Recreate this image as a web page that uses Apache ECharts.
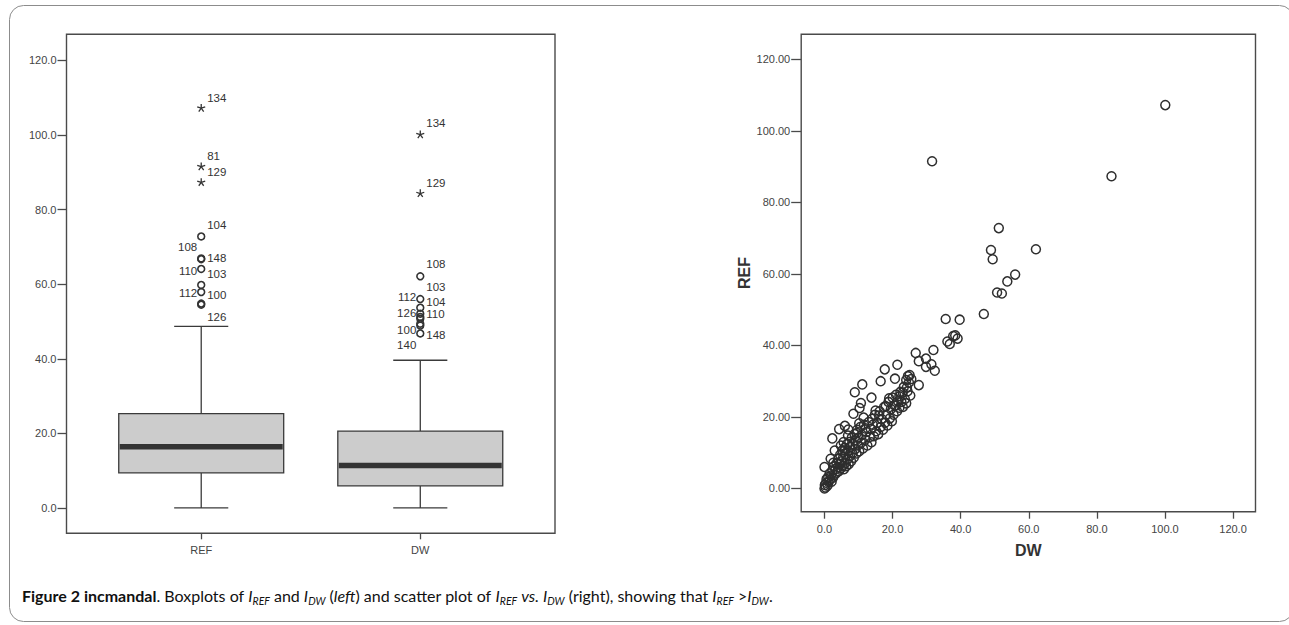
<!DOCTYPE html>
<html><head><meta charset="utf-8">
<script src="https://cdn.jsdelivr.net/npm/echarts@6/dist/echarts.min.js"></script>
<style>html,body{margin:0;padding:0;background:#fff}#c{width:1289px;height:625px}</style>
</head><body><div id="c"></div>
<script>
// ---------- Boxplot summary (left panel) ----------
const boxCategories = ['REF', 'DW'];
const boxLow    = [0.0, 0.0];
const boxQ1     = [9.4, 5.9];
const boxMedian = [16.4, 11.4];
const boxQ3     = [25.3, 20.6];
const boxHigh   = [48.7, 39.6];

// outliers: category index, value, kind ('star' = extreme, 'circle' = outlier)
const outlierCat   = [0, 0, 0, 0, 0, 0, 0, 0, 0, 0, 0,  1, 1, 1, 1, 1, 1, 1, 1, 1, 1, 1];
const outlierValue = [107.2, 91.5, 87.3, 72.8, 66.9, 66.7, 64.1, 59.8, 57.9, 54.8, 54.5,
                      100.1, 84.3, 62.1, 56.0, 53.7, 52.1, 51.2, 50.7, 49.4, 48.9, 46.8];
const outlierKind  = ['star','star','star','circle','circle','circle','circle','circle','circle','circle','circle',
                      'star','star','circle','circle','circle','circle','circle','circle','circle','circle','circle'];

// case labels next to outliers: category, text, value at which the label sits, side
const labelCat   = [0, 0, 0, 0, 0, 0, 0, 0, 0, 0, 0,  1, 1, 1, 1, 1, 1, 1, 1, 1, 1, 1];
const labelText  = ['134','81','129','104','108','148','110','103','112','100','126',
                    '134','129','108','103','112','104','126','110','100','148','140'];
const labelValue = [110.0, 94.3, 90.1, 75.8, 70.0, 67.1, 63.5, 62.6, 57.6, 57.0, 51.2,
                    103.1, 87.1, 65.3, 59.2, 56.6, 55.2, 52.2, 52.0, 47.8, 46.3, 43.6];
const labelSide  = ['R','R','R','R','L','R','L','R','L','R','R',
                    'R','R','R','R','L','R','L','R','L','R','L'];

// ---------- Scatter (right panel): DW (x) vs REF (y) ----------
const scatterDW = [
  100.1, 31.6, 84.3, 51.2, 48.9, 49.4, 62.1, 56.0, 53.7, 50.7, 52.1, 46.8, 35.6, 39.7,
  36.1, 36.8, 37.8, 38.4, 39.1, 26.8, 32.0, 29.8, 27.7, 31.4, 29.8, 32.4, 17.7, 21.4,
  16.5, 11.1, 8.9, 20.7, 27.7, 24.0, 24.5, 25.0, 13.8, 10.7, 10.3, 8.5, 11.5, 6.0, 4.3,
  7.0, 2.3, 0.0, 1.8, 3.0,
  0.0, 0.1, 0.3, 0.5, 0.6, 0.9, 1.1, 1.2, 1.5, 1.6, 1.9, 2.1, 2.3, 2.5, 2.8, 3.0, 3.2, 3.5, 3.6, 3.9,
  4.0, 4.2, 4.4, 4.6, 4.8, 5.0, 5.2, 5.3, 5.5, 5.7, 5.9, 6.0, 6.2, 6.4, 6.6, 6.8, 7.0, 7.1, 7.3, 7.5,
  7.6, 7.8, 8.0, 5.6, 6.9,
  8.2, 8.4, 8.6, 8.8, 9.0, 9.2, 9.4, 9.6, 9.8, 10.0, 10.2, 10.5, 10.8, 11.0, 11.3, 11.6, 12.0, 12.3,
  12.6, 13.0, 13.3, 13.6, 13.8,
  14.2, 14.5, 14.8, 15.2, 15.5, 15.8, 16.2, 16.5, 16.8, 17.2, 17.5, 17.8, 18.2, 18.5, 18.8, 19.2,
  19.5, 19.8, 20.0,
  20.3, 20.6, 21.0, 21.3, 21.6, 22.0, 22.3, 22.6, 23.0, 23.3, 23.6, 24.0, 24.4, 24.8, 25.2, 25.5,
  9.5, 12.0, 14.0, 16.0, 18.0, 19.0, 21.0, 22.0, 23.0, 24.2, 15.0, 10.2, 6.0, 4.8, 2.6
];
const scatterREF = [
  107.2, 91.5, 87.3, 72.8, 66.7, 64.1, 66.9, 59.8, 57.9, 54.8, 54.5, 48.8, 47.4, 47.2,
  41.1, 40.4, 42.6, 42.8, 41.9, 37.9, 38.7, 36.3, 35.6, 34.7, 34.0, 32.9, 33.3, 34.6,
  30.0, 29.1, 26.9, 30.7, 28.9, 30.3, 31.4, 31.7, 25.4, 23.9, 22.5, 20.9, 19.8, 17.5, 16.6,
  16.5, 14.0, 6.0, 8.3, 10.6,
  0.0, 1.0, 0.3, 1.6, 2.6, 0.8, 3.2, 1.8, 4.2, 2.4, 3.6, 1.9, 5.0, 3.0, 6.2, 3.8, 5.4, 7.0, 4.4, 6.0,
  8.2, 4.8, 6.8, 9.4, 5.6, 7.6, 10.6, 6.2, 8.8, 5.4, 11.4, 7.0, 9.6, 6.2, 12.4, 8.2, 10.4, 6.8, 13.0, 9.0,
  11.6, 7.6, 14.2, 13.0, 14.8,
  9.8, 12.4, 8.6, 15.2, 11.0, 13.4, 9.8, 16.4, 12.0, 14.2, 10.4, 17.2, 12.8, 15.0, 11.2, 17.8, 13.6, 15.8,
  12.0, 18.6, 14.4, 16.6, 12.9,
  17.8, 14.6, 20.6, 16.0, 18.4, 15.2, 21.6, 17.2, 19.4, 16.4, 22.8, 18.4, 20.6, 17.6, 24.2, 19.6,
  22.2, 18.8, 25.4,
  20.6, 23.2, 26.2, 21.6, 24.4, 22.6, 27.0, 24.2, 22.8, 28.4, 25.0, 23.8, 27.2, 29.6, 26.0, 30.6,
  15.5, 16.8, 19.5, 20.4, 23.0, 25.2, 23.2, 25.8, 26.8, 28.2, 21.8, 18.2, 10.6, 12.0, 7.2
];

const yTicks = [0, 20, 40, 60, 80, 100, 120];
const xTicksRight = [0, 20, 40, 60, 80, 100, 120];

// ---------- styling constants ----------
const FRAME = '#4a4a4a';
const TXT = '#444';
const BOX_WIDTH = 0.753;   // in category units
const CAP_WIDTH = 0.247;
const FONT = 'Liberation Sans, Arial, sans-serif';

const boxData = boxCategories.map((c, i) => [i, boxLow[i], boxQ1[i], boxMedian[i], boxQ3[i], boxHigh[i]]);
const outlierData = outlierValue.map((v, i) => [outlierCat[i], v, outlierKind[i] === 'star' ? 1 : 0]);
const labelData = labelText.map((t, i) => [labelCat[i], labelValue[i], labelSide[i] === 'L' ? 0 : 1]);
const scatterData = scatterDW.map((x, i) => [x, scatterREF[i]]);

function renderBox(params, api) {
  const i = api.value(0);
  const pLow = api.coord([i, api.value(1)]);
  const pQ1 = api.coord([i, api.value(2)]);
  const pMed = api.coord([i, api.value(3)]);
  const pQ3 = api.coord([i, api.value(4)]);
  const pHigh = api.coord([i, api.value(5)]);
  const bw = api.size([BOX_WIDTH, 0])[0];
  const cw = api.size([CAP_WIDTH, 0])[0];
  const cx = pQ1[0];
  const ls = { stroke: '#3a3a3a', lineWidth: 1.3 };
  return { type: 'group', children: [
    { type: 'line', shape: { x1: cx, y1: pQ3[1], x2: cx, y2: pHigh[1] }, style: ls },
    { type: 'line', shape: { x1: cx, y1: pQ1[1], x2: cx, y2: pLow[1] }, style: ls },
    { type: 'line', shape: { x1: cx - cw / 2, y1: pHigh[1], x2: cx + cw / 2, y2: pHigh[1] }, style: ls },
    { type: 'line', shape: { x1: cx - cw / 2, y1: pLow[1], x2: cx + cw / 2, y2: pLow[1] }, style: ls },
    { type: 'rect', shape: { x: cx - bw / 2, y: pQ3[1], width: bw, height: pQ1[1] - pQ3[1] },
      style: { fill: '#cccccc', stroke: '#3a3a3a', lineWidth: 1.3 } },
    { type: 'line', shape: { x1: cx - bw / 2 + 1, y1: pMed[1], x2: cx + bw / 2 - 1, y2: pMed[1] },
      style: { stroke: '#333', lineWidth: 5.5 } }
  ]};
}

function renderOutlier(params, api) {
  const p = api.coord([api.value(0), api.value(1)]);
  if (api.value(2) === 1) {
    const r = 4.2, kids = [];
    for (let k = 0; k < 5; k++) {
      const a = -Math.PI / 2 + k * 2 * Math.PI / 5;
      kids.push({ type: 'line', shape: { x1: p[0], y1: p[1], x2: p[0] + r * Math.cos(a), y2: p[1] + r * Math.sin(a) },
        style: { stroke: '#333', lineWidth: 1.3 } });
    }
    return { type: 'group', children: kids };
  }
  return { type: 'circle', shape: { cx: p[0], cy: p[1], r: 3.4 }, style: { fill: 'none', stroke: '#333', lineWidth: 1.6 } };
}

function renderLabel(params, api) {
  const p = api.coord([api.value(0), api.value(1)]);
  const right = api.value(2) === 1;
  return { type: 'text', x: p[0] + (right ? 6 : -4), y: p[1],
    style: { text: labelText[params.dataIndex], fill: '#333', font: '11.5px ' + FONT,
      align: right ? 'left' : 'right', verticalAlign: 'middle' } };
}

const chart = echarts.init(document.getElementById('c'), null, { renderer: 'svg' });

const tickStyle = { color: FRAME, width: 1.3 };
const option = {
  backgroundColor: '#fff',
  animation: false,
  grid: [
    { left: 66.5, top: 34.3, width: 488.5, height: 499, show: true, borderColor: FRAME, borderWidth: 1.4, backgroundColor: 'transparent' },
    { left: 801.2, top: 34.3, width: 454.3, height: 477.4, show: true, borderColor: FRAME, borderWidth: 1.4, backgroundColor: 'transparent' }
  ],
  xAxis: [
    { gridIndex: 0, type: 'value', min: -0.615, max: 1.615,
      axisLine: { show: false, onZero: false }, splitLine: { show: false },
      axisTick: { show: true, customValues: [0, 1], length: 6, lineStyle: tickStyle },
      axisLabel: { customValues: [0, 1], formatter: v => boxCategories[Math.round(v)], color: TXT, fontSize: 11, fontFamily: FONT, margin: 11 } },
    { gridIndex: 1, type: 'value', min: -6.84, max: 126.6,
      name: 'DW', nameLocation: 'middle', nameGap: 31,
      nameTextStyle: { fontSize: 16, fontWeight: 'bold', color: '#333', fontFamily: FONT },
      axisLine: { show: false, onZero: false }, splitLine: { show: false },
      axisTick: { show: true, customValues: xTicksRight, length: 7, lineStyle: tickStyle },
      axisLabel: { customValues: xTicksRight, formatter: v => v.toFixed(1), color: TXT, fontSize: 11, fontFamily: FONT, margin: 12 } }
  ],
  yAxis: [
    { gridIndex: 0, type: 'value', min: -6.8, max: 127,
      axisLine: { show: false, onZero: false }, splitLine: { show: false },
      axisTick: { show: true, customValues: yTicks, length: 9, lineStyle: tickStyle },
      axisLabel: { customValues: yTicks, formatter: v => v.toFixed(1), color: TXT, fontSize: 11, fontFamily: FONT, margin: 10 } },
    { gridIndex: 1, type: 'value', min: -6.5, max: 127,
      name: 'REF', nameLocation: 'middle', nameGap: 49, nameRotate: 90,
      nameTextStyle: { fontSize: 16, fontWeight: 'bold', color: '#333', fontFamily: FONT },
      axisLine: { show: false, onZero: false }, splitLine: { show: false },
      axisTick: { show: true, customValues: yTicks, length: 10, lineStyle: tickStyle },
      axisLabel: { customValues: yTicks, formatter: v => v.toFixed(2), color: TXT, fontSize: 11, fontFamily: FONT, margin: 11 } }
  ],
  series: [
    { type: 'custom', xAxisIndex: 0, yAxisIndex: 0, data: boxData, renderItem: renderBox, silent: true },
    { type: 'custom', xAxisIndex: 0, yAxisIndex: 0, data: outlierData, renderItem: renderOutlier, silent: true },
    { type: 'custom', xAxisIndex: 0, yAxisIndex: 0, data: labelData, renderItem: renderLabel, silent: true },
    { type: 'scatter', xAxisIndex: 1, yAxisIndex: 1, data: scatterData, symbol: 'circle', symbolSize: 9,
      itemStyle: { color: 'rgba(0,0,0,0)', borderColor: '#2e2e2e', borderWidth: 1.5, opacity: 1 }, silent: true }
  ],
  graphic: [
    { type: 'rect', shape: { x: 9.5, y: 5.5, width: 1284, height: 616, r: 14 },
      style: { fill: 'none', stroke: '#8c8c8c', lineWidth: 1 }, silent: true },
    { type: 'text', left: 22, top: 587, silent: true,
      style: {
        text: '{b|Figure 2 incmandal}{r|. Boxplots of }{i|I}{s|REF}{r| and }{i|I}{s|DW}{r| (}{i|left}{r|) and scatter plot of }{i|I}{s|REF}{r| }{i|vs.}{r| }{i|I}{s|DW}{r| (right), showing that }{i|I}{s|REF}{r| >}{i|I}{s|DW}{r|.}',
        rich: {
          b: { fontFamily: 'Lato', fontWeight: 'bold', fontSize: 16, lineHeight: 22, fill: '#111' },
          r: { fontFamily: 'Lato', fontSize: 16, lineHeight: 22, fill: '#111' },
          i: { fontFamily: 'Lato', fontStyle: 'italic', fontSize: 16, lineHeight: 22, fill: '#111' },
          s: { fontFamily: 'Lato', fontStyle: 'italic', fontSize: 10.5, lineHeight: 22, verticalAlign: 'bottom', fill: '#111' }
        }
      } }
  ]
};
chart.setOption(option);
</script></body></html>
